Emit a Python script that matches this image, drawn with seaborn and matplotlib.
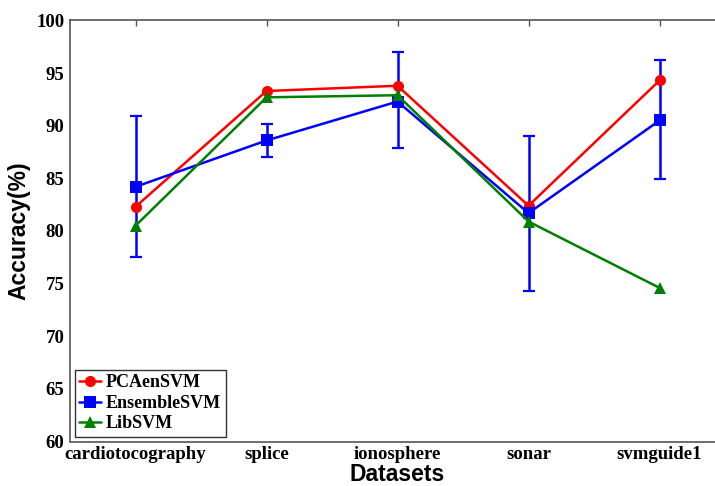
import numpy as np
import pandas as pd
import matplotlib
matplotlib.use("Agg")
import matplotlib.pyplot as plt
import seaborn as sns

datasets = ["cardiotocography", "splice", "ionosphere", "sonar", "svmguide1"]
pca_acc = [82.3, 93.3, 93.8, 82.4, 94.3]
ens_acc = [84.2, 88.6, 92.3, 81.7, 90.5]
lib_acc = [80.5, 92.7, 92.9, 80.9, 74.6]
ens_err_low = [77.5, 87.0, 87.9, 74.3, 84.9]
ens_err_high = [90.9, 90.2, 97.0, 89.0, 96.2]

df = pd.DataFrame({
    "Datasets": datasets * 3,
    "Accuracy": pca_acc + ens_acc + lib_acc,
    "Method": ["PCAenSVM"] * 5 + ["EnsembleSVM"] * 5 + ["LibSVM"] * 5,
})

sns.set_style("white")
serif = "Liberation Serif"
sans = "Liberation Sans"

fig = plt.figure(figsize=(7.15, 4.86), dpi=100)
ax = fig.add_axes([70 / 715, 44.5 / 486, 655 / 715, 421 / 486])

sns.lineplot(data=df, x="Datasets", y="Accuracy", hue="Method", style="Method",
             markers={"PCAenSVM": "o", "EnsembleSVM": "s", "LibSVM": "^"},
             dashes=False, palette={"PCAenSVM": "red", "EnsembleSVM": "blue", "LibSVM": "green"},
             linewidth=1.8, markersize=8, markeredgewidth=0, ax=ax)

xs = np.arange(len(datasets))
ens = np.array(ens_acc)
yerr = np.vstack([ens - np.array(ens_err_low), np.array(ens_err_high) - ens])
ax.errorbar(xs, ens, yerr=yerr, fmt="none", ecolor="blue", elinewidth=1.8,
            capsize=4, capthick=1.6, zorder=1)

ax.set_xlim(-0.5, 4.5)
ax.set_ylim(60, 100)
ax.set_yticks(range(60, 101, 5))
ax.set_xticks(xs)
ax.set_xticklabels(datasets)
for lab in ax.get_xticklabels() + ax.get_yticklabels():
    lab.set_fontfamily(serif)
    lab.set_fontweight("bold")
    lab.set_fontsize(13.5)
    lab.set_color("black")

ax.tick_params(axis="x", direction="in", length=4, top=True, width=1, color="#555555", pad=3)
ax.tick_params(axis="y", direction="out", length=3, width=1, color="#555555", pad=1)
for s in ax.spines.values():
    s.set_color("#555555")
    s.set_linewidth(1.2)

ax.set_xlabel("Datasets", fontfamily=sans, fontweight="bold", fontsize=16.5, color="black", labelpad=0.5)
ax.set_ylabel("Accuracy(%)", fontfamily=sans, fontweight="bold", fontsize=16.5, color="black", labelpad=4)

leg = ax.legend(loc="lower left", prop={"family": serif, "weight": "bold", "size": 13},
                frameon=True, fancybox=False, edgecolor="black", borderaxespad=0.25,
                handlelength=1.2, handletextpad=0.3, labelspacing=0.2, borderpad=0.25)
leg.get_frame().set_linewidth(1.0)
for t in leg.get_texts():
    t.set_color("black")

fig.savefig("out.png", dpi=100)
